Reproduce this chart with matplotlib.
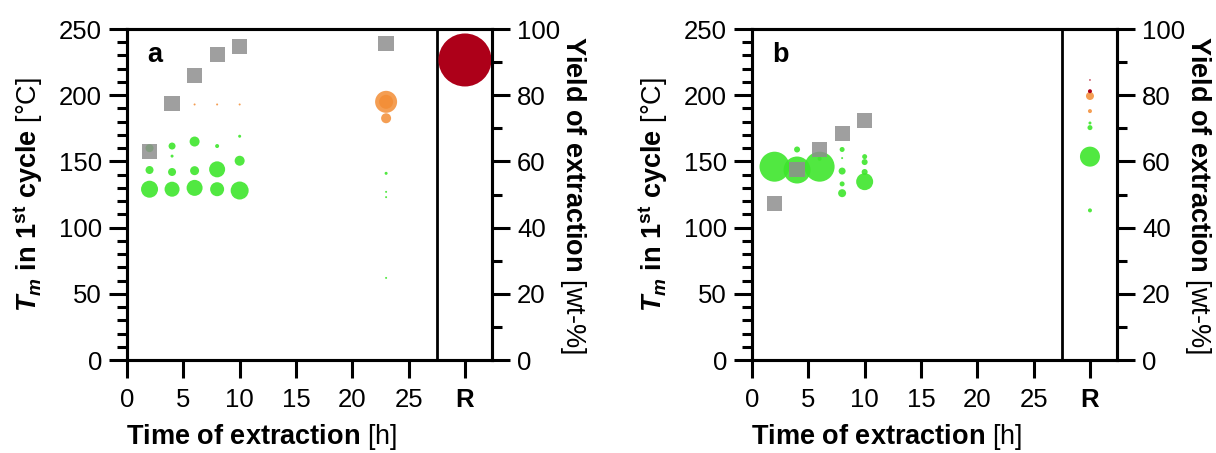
import matplotlib
matplotlib.use("Agg")
import matplotlib.pyplot as plt
import numpy as np

plt.rcParams['font.family'] = ['Liberation Sans', 'DejaVu Sans']
plt.rcParams['mathtext.fontset'] = 'custom'
plt.rcParams['mathtext.rm'] = 'Liberation Sans'
plt.rcParams['mathtext.bf'] = 'Liberation Sans:bold'
plt.rcParams['mathtext.it'] = 'Liberation Sans:italic'
plt.rcParams['mathtext.bfit'] = 'Liberation Sans:bold:italic'

# x ticks, "R" is the residue column
time_ticks = [0, 5, 10, 15, 20, 25, 30]
time_labels = ['0', '5', '10', '15', '20', '25', 'R']
R = 30

# ---- panel a ----
a_green_t = [2, 2, 2, 4, 4, 4, 4, 6, 6, 6, 8, 8, 8, 10, 10, 10, 23, 23, 23, 23]
a_green_tm = [160, 143.5, 129, 161.6, 154, 142, 129, 165, 143, 130, 161.6, 144, 129,
              169, 150.5, 128, 141, 127, 123, 62]
a_green_dh = [8, 8, 17, 7, 3, 8, 15, 10, 9, 16, 4, 16, 14, 3, 10, 18, 3, 2, 2, 2]

a_orange_t = [6, 8, 10, 23, 23, 23]
a_orange_tm = [193, 193, 193, 195, 195, 182.6]
a_orange_dh = [2, 2, 2, 22, 14, 10]

a_red_t = [R]
a_red_tm = [226.6]
a_red_dh = [53]

a_yield_t = [2, 4, 6, 8, 10, 23]
a_yield = [63, 77.6, 86, 92.4, 94.8, 95.6]

# ---- panel b ----
b_green_t = [2, 4, 4, 6, 6, 8, 8, 8, 8, 8, 10, 10, 10, 10, R, R, R, R]
b_green_tm = [146, 143.5, 159, 146, 152, 159, 152.5, 142.7, 133, 126,
              153.6, 149.5, 142, 134.7, 179, 175.5, 153.6, 113]
b_green_dh = [30, 27, 6, 30, 4, 5, 2, 7, 5, 8, 5, 6, 6, 17, 3, 5, 20, 4]

b_orange_t = [R, R]
b_orange_tm = [199.4, 188]
b_orange_dh = [8, 4]

b_red_t = [R, R]
b_red_tm = [211.5, 203]
b_red_dh = [1.5, 4]

b_yield_t = [2, 4, 6, 8, 10]
b_yield = [47.3, 57.6, 63.6, 68.4, 72.4]

GREEN = '#3ee62c'
ORANGE = '#f38d35'
RED = '#ad0019'
GRAY = '#8e8e8e'

TICK_FS = 18.5
LABEL_FS = 19.5


def area(d):
    return (np.asarray(d, dtype=float) * 0.72) ** 2


def style_axes(ax, ax2):
    lw = 2.2
    for a in (ax, ax2):
        for s in a.spines.values():
            s.set_linewidth(lw)
    ax.set_xlim(0, 32.4)
    ax.set_ylim(0, 250)
    ax2.set_ylim(0, 100)
    ax.axvline(27.5, color='black', lw=2.0, zorder=1)
    ax.set_xticks(time_ticks)
    ax.set_xticklabels(time_labels)
    ax.get_xticklabels()[-1].set_fontweight('bold')
    ax.set_yticks(np.arange(0, 251, 50))
    ax.set_yticks(np.arange(0, 251, 10), minor=True)
    ax2.set_yticks(np.arange(0, 101, 20))
    ax2.set_yticks(np.arange(0, 101, 10), minor=True)
    ax.tick_params(axis='x', which='major', direction='out', length=13, width=2.2,
                   labelsize=TICK_FS, pad=7)
    ax.tick_params(axis='y', which='major', direction='out', length=13, width=2.2,
                   labelsize=TICK_FS, pad=5)
    ax.tick_params(axis='y', which='minor', direction='out', length=7, width=2.2)
    ax.tick_params(axis='x', which='minor', bottom=False)
    ax2.tick_params(axis='y', which='major', direction='out', length=13, width=2.2,
                    labelsize=TICK_FS, pad=5)
    ax2.tick_params(axis='y', which='minor', direction='out', length=7, width=2.2)

    ax.set_xlabel(r'$\mathbf{Time\ of\ extraction}\ \mathrm{[h]}$', fontsize=LABEL_FS)
    ax.xaxis.label.set_va('center')
    ax.xaxis.set_label_coords(0.368, -0.233)
    ax.set_ylabel(r'$\mathbfit{T}_{\mathbfit{m}}\ \mathbf{in\ 1^{st}\ cycle}\ \mathrm{[°C]}$',
                  fontsize=LABEL_FS)
    ax.yaxis.label.set_va('center')
    ax.yaxis.set_label_coords(-0.271, 0.5)
    ax2.set_ylabel(r'$\mathbf{Yield\ of\ extraction}\ \mathrm{[wt\text{-}\%]}$',
                   fontsize=LABEL_FS, rotation=270)
    ax2.yaxis.label.set_va('center')
    ax2.yaxis.set_label_coords(1.222, 0.5)


def draw_panel(rect, letter, green, orange, red, yld):
    ax = fig.add_axes(rect)
    ax2 = ax.twinx()
    ax.set_zorder(ax2.get_zorder() + 1)
    ax.patch.set_visible(False)
    for (t, tm, dh), c, al in ((green, GREEN, 0.9), (orange, ORANGE, 0.85), (red, RED, 1.0)):
        ax.scatter(t, tm, s=area(dh), color=c, edgecolors='none', alpha=al, zorder=2)
    # yield squares drawn on top, slightly see-through
    ax.scatter(yld[0], np.asarray(yld[1]) * 2.5, s=120, marker='s', color=GRAY,
               edgecolors='none', alpha=0.85, zorder=3)
    style_axes(ax, ax2)
    ax.text(0.077, 0.92, letter, transform=ax.transAxes, fontsize=LABEL_FS,
            fontweight='bold', va='center', ha='center')
    return ax, ax2


fig = plt.figure(figsize=(12.16, 4.53), dpi=100)
draw_panel([127 / 1216, 93 / 453, 365 / 1216, 331 / 453], 'a',
           (a_green_t, a_green_tm, a_green_dh),
           (a_orange_t, a_orange_tm, a_orange_dh),
           (a_red_t, a_red_tm, a_red_dh),
           (a_yield_t, a_yield))
draw_panel([752 / 1216, 93 / 453, 365 / 1216, 331 / 453], 'b',
           (b_green_t, b_green_tm, b_green_dh),
           (b_orange_t, b_orange_tm, b_orange_dh),
           (b_red_t, b_red_tm, b_red_dh),
           (b_yield_t, b_yield))

fig.savefig('out.png', dpi=100)
